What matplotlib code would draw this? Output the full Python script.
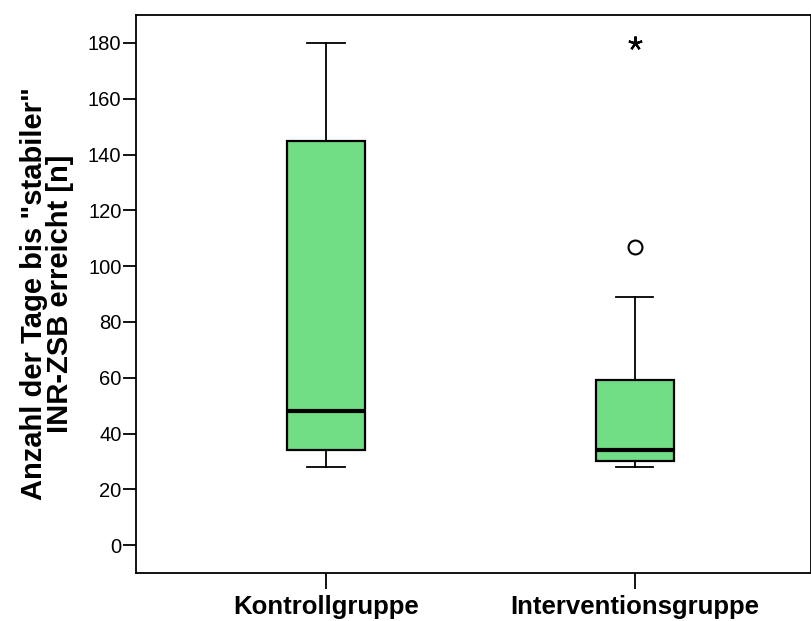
import matplotlib.pyplot as plt

plt.rcParams['font.family'] = ['Liberation Sans', 'DejaVu Sans']

groups = ['Kontrollgruppe', 'Interventionsgruppe']
whisker_low = [28, 28]
q1 = [34, 30]
median = [48, 34]
q3 = [145, 59]
whisker_high = [180, 89]
# outliers (circle) and extreme values (star)
outliers = [[], [107]]
extremes = [[], [180]]

fig = plt.figure(figsize=(8.11, 6.21), dpi=100)
ax = fig.add_axes([136 / 811, 48 / 621, 675 / 811, 558 / 621])

stats = []
for i, g in enumerate(groups):
    stats.append({'label': g, 'whislo': whisker_low[i], 'q1': q1[i], 'med': median[i],
                  'q3': q3[i], 'whishi': whisker_high[i], 'fliers': []})

pos = list(range(1, len(groups) + 1))
ax.bxp(stats, positions=pos, widths=0.25, patch_artist=True, showfliers=False,
       boxprops=dict(facecolor='#71dd84', edgecolor='black', linewidth=1.6),
       medianprops=dict(color='black', linewidth=3),
       whiskerprops=dict(color='black', linewidth=1.3),
       capprops=dict(color='black', linewidth=1.3), capwidths=0.12)

for p, vals in zip(pos, outliers):
    if vals:
        ax.plot([p] * len(vals), vals, 'o', mfc='white', mec='black', ms=10, mew=1.5)
for p, vals in zip(pos, extremes):
    if vals:
        ax.plot([p] * len(vals), vals, marker=(5, 2, 0), color='black', ms=10, mew=1.6,
                ls='none')

ax.set_xlim(0.385, 2.57)
ax.set_ylim(-10, 190)
ax.set_yticks(range(0, 181, 20))
ax.tick_params(axis='y', labelsize=14.5, length=9.5, width=1.3, pad=1)
ax.tick_params(axis='x', labelsize=18.5, length=11.5, width=1.3, pad=4)
for lbl in ax.get_xticklabels():
    lbl.set_fontweight('bold')
for s in ax.spines.values():
    s.set_linewidth(1.3)

ax.set_ylabel('Anzahl der Tage bis "stabiler"\nINR-ZSB erreicht [n]',
              fontsize=21, fontweight='bold', labelpad=10, linespacing=0.92)

fig.savefig('out.png', dpi=100)
